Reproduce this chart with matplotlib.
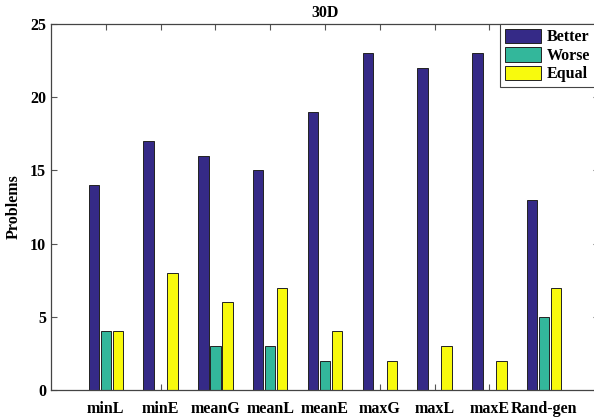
import matplotlib
matplotlib.use("Agg")
import matplotlib.pyplot as plt
import numpy as np

categories = ["minL", "minE", "meanG", "meanL", "meanE", "maxG", "maxL", "maxE", "Rand-gen"]
better = [14, 17, 16, 15, 19, 23, 22, 23, 13]
worse = [4, 0, 3, 3, 2, 0, 0, 0, 5]
equal = [4, 8, 6, 7, 4, 2, 3, 2, 7]
series_names = ["Better", "Worse", "Equal"]
colors = ["#352a87", "#33b79b", "#f8fa0d"]

plt.rcParams["font.family"] = ["Liberation Serif", "DejaVu Serif"]
plt.rcParams["font.weight"] = "bold"

fig = plt.figure(figsize=(5.94, 4.18), dpi=100)
ax = fig.add_axes([51 / 594, 1 - 390 / 418, 548 / 594, 366 / 418])

x = np.arange(1, len(categories) + 1)
width = 0.19
offsets = [-0.22, 0.0, 0.22]
for vals, off, col, name in zip([better, worse, equal], offsets, colors, series_names):
    ax.bar(x + off, vals, width, color=col, edgecolor="#222222", linewidth=0.7,
           label=name, zorder=2)

ax.set_xlim(0, 10)
ax.set_ylim(0, 25)
ax.set_xticks(x)
ax.set_xticklabels(categories, fontsize=11.5, fontweight="bold")
ax.set_yticks([0, 5, 10, 15, 20, 25])
ax.tick_params(axis="y", labelsize=11.5)
ax.tick_params(direction="in", top=True, right=True, length=4, color="#555555", width=0.8)
ax.tick_params(axis="x", pad=8)
for lab in ax.get_yticklabels():
    lab.set_fontweight("bold")
for s in ax.spines.values():
    s.set_color("#444444")
    s.set_linewidth(0.9)

ax.set_ylabel("Problems", fontsize=11.5, fontweight="bold", labelpad=6)
ax.set_title("30D", fontsize=11.5, fontweight="bold", pad=5)

leg = ax.legend(loc="upper right", bbox_to_anchor=(0.993, 1.0), fontsize=11.5,
                handlelength=2.3, handleheight=1.0, handletextpad=0.35,
                borderpad=0.3, labelspacing=0.12, fancybox=False,
                framealpha=1, edgecolor="#444444", borderaxespad=0.0)
leg.get_frame().set_linewidth(0.8)
for t in leg.get_texts():
    t.set_fontweight("bold")

fig.savefig("out.png", dpi=100)
